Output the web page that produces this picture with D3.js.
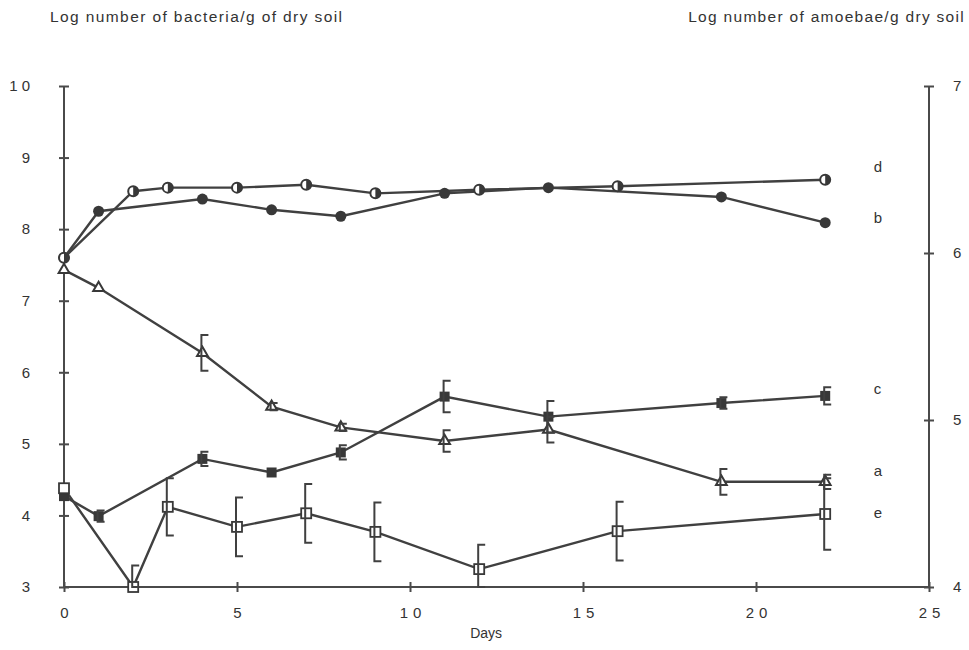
<!DOCTYPE html>
<html lang="en">
<head>
  <meta charset="UTF-8">
  <title>Bacteria and amoebae in soil</title>
  <style>
  body { margin: 0; background: #fff; }
  text { font-family: "Liberation Sans", Arial, sans-serif; fill: #333; }
  .axis path, .axis line { stroke: #4a4a4a; stroke-width: 2px; }
  .series { fill: none; stroke: #404040; stroke-width: 2.4px; }
  .err { fill: none; stroke: #404040; stroke-width: 2px; }
</style>
</head>
<body>
  <script src="https://d3js.org/d3.v7.min.js"></script>
  <script>
// a - triangles
const daysA = [0, 1, 4, 6, 8, 11, 14, 19, 22]
const valsA = [7.43, 7.18, 6.27, 5.52, 5.23, 5.04, 5.2, 4.47, 4.47]
const errA = [0, 0, 0.25, 0.05, 0.05, 0.15, 0.18, 0.18, 0.1]
// b - filled circles
const daysB = [0, 1, 4, 6, 8, 11, 14, 19, 22]
const valsB = [7.6, 8.25, 8.42, 8.27, 8.18, 8.5, 8.58, 8.45, 8.09]
// c - filled squares
const daysC = [0, 1, 4, 6, 8, 11, 14, 19, 22]
const valsC = [4.27, 3.99, 4.79, 4.6, 4.88, 5.66, 5.38, 5.57, 5.67]
const errC = [0, 0.08, 0.1, 0, 0.1, 0.22, 0.22, 0.08, 0.12]
// d - open circles
const daysD = [0, 2, 3, 5, 7, 9, 12, 16, 22]
const valsD = [7.6, 8.53, 8.58, 8.58, 8.62, 8.5, 8.55, 8.6, 8.69]
// e - open squares
const daysE = [0, 2, 3, 5, 7, 9, 12, 16, 22]
const valsE = [4.38, 3.0, 4.12, 3.84, 4.03, 3.77, 3.25, 3.78, 4.02]
const errE = [0, 0.3, 0.4, 0.41, 0.41, 0.41, 0.34, 0.41, 0.5]

const leftTicks = [3, 4, 5, 6, 7, 8, 9, 10]
const rightTicks = [4, 5, 6, 7]
const dayTicks = [0, 5, 10, 15, 20, 25]

width = 969
height = 650
margin = ({top: 86, right: 40, bottom: 63, left: 64})

x = d3.scaleLinear().domain([0, 25]).range([margin.left, width - margin.right])
y = d3.scaleLinear().domain([3, 10]).range([height - margin.bottom, margin.top])
yRight = d3.scaleLinear().domain([4, 7]).range([height - margin.bottom, margin.top])

const zip = (days, vals, errs) => days.map((d, i) => ({day: d, v: vals[i], e: errs ? errs[i] : 0}))

const svg = d3.select("body").append("svg")
  .attr("width", width)
  .attr("height", height)

// titles
svg.append("text").attr("x", 50).attr("y", 22)
  .style("font-size", "15.5px").style("letter-spacing", "1.4px")
  .text("Log number of bacteria/g of dry soil")
svg.append("text").attr("x", 965).attr("y", 22).attr("text-anchor", "end")
  .style("font-size", "15.5px").style("letter-spacing", "1.3px")
  .text("Log number of amoebae/g dry soil")

// crossing ticks helper
const crossTicks = (g, horiz) => {
  g.select(".domain").remove()
  g.selectAll(".tick line").attr(horiz ? "y1" : "x1", -5).attr(horiz ? "y2" : "x2", 5)
}

// left axis
svg.append("g").attr("class", "axis")
  .attr("transform", `translate(${margin.left},0)`)
  .call(d3.axisLeft(y).tickValues(leftTicks).tickFormat(d3.format("d")).tickSize(0).tickPadding(30))
  .call(g => crossTicks(g, false))
  .call(g => g.append("line").attr("y1", y(3)).attr("y2", y(10)))
  .selectAll("text").style("font-size", "15px").style("letter-spacing", "4px").attr("fill", "#333")

// right axis
svg.append("g").attr("class", "axis")
  .attr("transform", `translate(${x(25)},0)`)
  .call(d3.axisRight(yRight).tickValues(rightTicks).tickFormat(d3.format("d")).tickSize(0).tickPadding(24))
  .call(g => crossTicks(g, false))
  .call(g => g.append("line").attr("y1", yRight(4)).attr("y2", yRight(7)))
  .selectAll("text").style("font-size", "15px").attr("fill", "#333")

// bottom axis
svg.append("g").attr("class", "axis")
  .attr("transform", `translate(0,${y(3)})`)
  .call(d3.axisBottom(x).tickValues(dayTicks).tickFormat(d3.format("d")).tickSize(0).tickPadding(20))
  .call(g => crossTicks(g, true))
  .call(g => g.append("line").attr("x1", x(0)).attr("x2", x(25)))
  .selectAll("text").style("font-size", "15px").style("letter-spacing", "5px").attr("fill", "#333")
    .attr("dx", "2.5px")

svg.append("text").attr("x", x(12.2)).attr("y", 638).attr("text-anchor", "middle")
  .style("font-size", "14px").text("Days")

const line = d3.line().x(d => x(d.day)).y(d => y(d.v))

const seriesA = zip(daysA, valsA, errA)
const seriesB = zip(daysB, valsB)
const seriesC = zip(daysC, valsC, errC)
const seriesD = zip(daysD, valsD)
const seriesE = zip(daysE, valsE, errE)

for (const s of [seriesA, seriesB, seriesC, seriesD, seriesE]) {
  svg.append("path").attr("class", "series").attr("d", line(s))
}

// markers
const col = "#383838"
const m = svg.append("g")

m.selectAll(".tri").data(seriesA).enter().append("path")
  .attr("transform", d => `translate(${x(d.day)},${y(d.v)})`)
  .attr("d", d3.symbol(d3.symbolTriangle, 50))
  .attr("fill", "#fff").attr("stroke", col).attr("stroke-width", 2)

m.selectAll(".fc").data(seriesB).enter().append("circle")
  .attr("cx", d => x(d.day)).attr("cy", d => y(d.v)).attr("r", 5.5)
  .attr("fill", col)

m.selectAll(".fs").data(seriesC).enter().append("rect")
  .attr("x", d => x(d.day) - 5).attr("y", d => y(d.v) - 5)
  .attr("width", 10).attr("height", 10).attr("fill", col)

const od = m.selectAll(".oc").data(seriesD).enter().append("g")
  .attr("transform", d => `translate(${x(d.day)},${y(d.v)})`)
od.append("circle").attr("r", 5).attr("fill", "#fff").attr("stroke", col).attr("stroke-width", 2)
od.append("path").attr("d", "M0,-5A5,5 0 0,1 0,5Z").attr("fill", col)

m.selectAll(".os").data(seriesE).enter().append("rect")
  .attr("x", d => x(d.day) - 5).attr("y", d => y(d.v) - 5)
  .attr("width", 10).attr("height", 10)
  .attr("fill", "#fff").attr("stroke", col).attr("stroke-width", 1.8)

// error bars drawn as "[" brackets
const bars = [...seriesA, ...seriesC, ...seriesE].filter(d => d.e > 0)
svg.append("g").selectAll("path").data(bars).enter().append("path")
  .attr("class", "err")
  .attr("d", d => {
    const bx = x(d.day) - 1
    const top = y(Math.min(10, d.v + d.e))
    const bot = y(Math.max(3, d.v - d.e))
    return `M${bx + 7},${top}H${bx}V${bot}H${bx + 7}`
  })

// series letters
const ends = [["d", valsD, -8], ["b", valsB, 0], ["c", valsC, -2], ["a", valsA, -6], ["e", valsE, 4]]
svg.append("g").selectAll("text").data(ends).enter().append("text")
  .attr("x", x(23.4)).attr("y", d => y(d[1][d[1].length - 1]) + d[2])
  .style("font-size", "15px")
  .text(d => d[0])
  </script>
</body>
</html>
